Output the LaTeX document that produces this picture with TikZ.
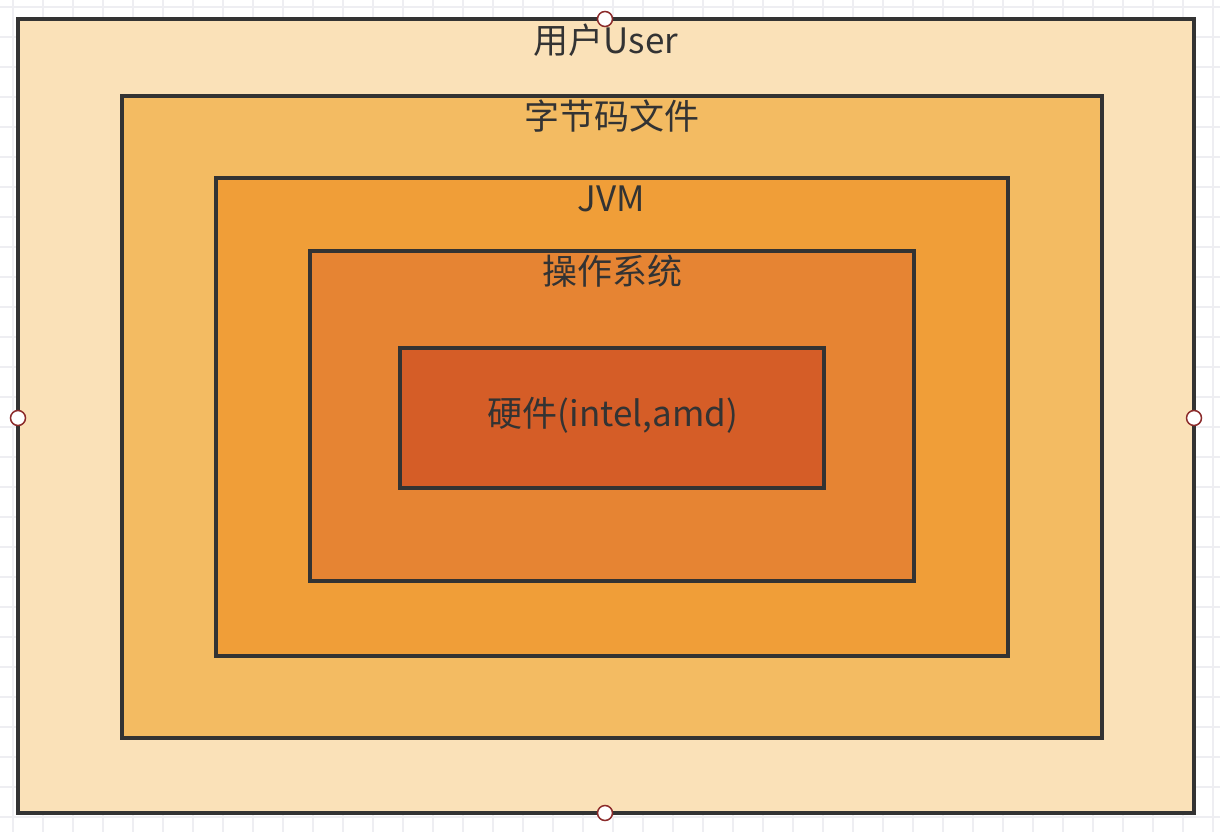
\documentclass[tikz,border=0pt]{standalone}
\usepackage{fontspec}
\setmainfont{Noto Sans CJK SC}
\definecolor{cA}{HTML}{FAE1B8}
\definecolor{cB}{HTML}{F3BB62}
\definecolor{cC}{HTML}{F09E38}
\definecolor{cD}{HTML}{E68433}
\definecolor{cE}{HTML}{D55D27}
\definecolor{edge}{HTML}{333333}
\definecolor{gridc}{HTML}{EEEEF2}
\definecolor{handle}{HTML}{8B2A2A}
\tikzset{
  layer/.style={draw=edge, line width=3.8pt},
  lbl/.style={text=edge, font=\fontsize{35}{40}\selectfont, inner sep=0pt},
  hdl/.style={circle, draw=handle, fill=white, line width=1.5pt, minimum size=15pt, inner sep=0pt}
}
\begin{document}
\begin{tikzpicture}[x=1pt,y=-1pt]
\useasboundingbox (0,0) rectangle (1220,832);
\fill[white] (0,0) rectangle (1220,832);
\foreach \gx in {13,43,...,1213} \draw[gridc, line width=1.5pt] (\gx,0) -- (\gx,832);
\foreach \gy in {7,37,...,832} \draw[gridc, line width=1.5pt] (0,\gy) -- (1220,\gy);
\filldraw[layer, fill=cA] (18,19) rectangle (1194,813);
\filldraw[layer, fill=cB] (122,96) rectangle (1102,738);
\filldraw[layer, fill=cC] (216,178) rectangle (1008,656);
\filldraw[layer, fill=cD] (310,251) rectangle (914,581);
\filldraw[layer, fill=cE] (400,348) rectangle (824,488);
\node[lbl] (user) at (606,40) {用户User};
\node[lbl] (bytecode) at (612,116) {字节码文件};
\node[lbl] (jvm) at (611,199) {JVM};
\node[lbl] (os) at (612,271) {操作系统};
\node[lbl] (hw) at (613,415) {硬件(intel,amd)};
\node[hdl] (h1) at (605,19) {};
\node[hdl] (h2) at (18,418) {};
\node[hdl] (h3) at (1194,418) {};
\node[hdl] (h4) at (605,813) {};
\end{tikzpicture}
\end{document}
